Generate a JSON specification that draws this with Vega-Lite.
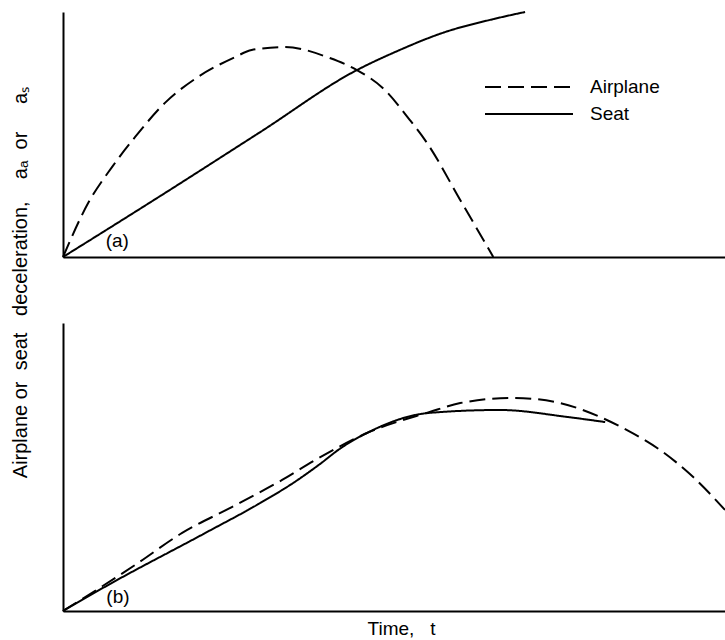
{
  "$schema": "https://vega.github.io/schema/vega-lite/v6.json",
  "padding": {"left": 9, "top": 8, "right": 0, "bottom": 0},
  "background": "white",
  "datasets": {
    "curves": [
      {"panel": "a", "series": "Airplane", "t": 0.0, "a": 0.0},
      {"panel": "a", "series": "Airplane", "t": 0.38, "a": 2.2},
      {"panel": "a", "series": "Airplane", "t": 0.74, "a": 3.67},
      {"panel": "a", "series": "Airplane", "t": 1.09, "a": 4.9},
      {"panel": "a", "series": "Airplane", "t": 1.54, "a": 6.29},
      {"panel": "a", "series": "Airplane", "t": 2.04, "a": 7.35},
      {"panel": "a", "series": "Airplane", "t": 2.6, "a": 8.16},
      {"panel": "a", "series": "Airplane", "t": 2.85, "a": 8.45},
      {"panel": "a", "series": "Airplane", "t": 3.35, "a": 8.57},
      {"panel": "a", "series": "Airplane", "t": 4.03, "a": 8.12},
      {"panel": "a", "series": "Airplane", "t": 4.44, "a": 7.63},
      {"panel": "a", "series": "Airplane", "t": 4.83, "a": 6.9},
      {"panel": "a", "series": "Airplane", "t": 5.24, "a": 5.59},
      {"panel": "a", "series": "Airplane", "t": 5.5, "a": 4.65},
      {"panel": "a", "series": "Airplane", "t": 6.0, "a": 2.33},
      {"panel": "a", "series": "Airplane", "t": 6.5, "a": 0.0},
      {"panel": "a", "series": "Seat", "t": 0.0, "a": 0.0},
      {"panel": "a", "series": "Seat", "t": 1.47, "a": 2.49},
      {"panel": "a", "series": "Seat", "t": 2.98, "a": 5.1},
      {"panel": "a", "series": "Seat", "t": 4.44, "a": 7.63},
      {"panel": "a", "series": "Seat", "t": 5.02, "a": 8.37},
      {"panel": "a", "series": "Seat", "t": 5.77, "a": 9.18},
      {"panel": "a", "series": "Seat", "t": 6.5, "a": 9.71},
      {"panel": "a", "series": "Seat", "t": 6.98, "a": 10.0},
      {"panel": "b", "series": "Airplane", "t": 0.0, "a": 0.0},
      {"panel": "b", "series": "Airplane", "t": 1.09, "a": 1.6},
      {"panel": "b", "series": "Airplane", "t": 1.8, "a": 2.71},
      {"panel": "b", "series": "Airplane", "t": 2.55, "a": 3.61},
      {"panel": "b", "series": "Airplane", "t": 3.31, "a": 4.55},
      {"panel": "b", "series": "Airplane", "t": 3.81, "a": 5.24},
      {"panel": "b", "series": "Airplane", "t": 4.59, "a": 6.18},
      {"panel": "b", "series": "Airplane", "t": 5.54, "a": 6.91},
      {"panel": "b", "series": "Airplane", "t": 6.0, "a": 7.22},
      {"panel": "b", "series": "Airplane", "t": 6.8, "a": 7.4},
      {"panel": "b", "series": "Airplane", "t": 7.51, "a": 7.22},
      {"panel": "b", "series": "Airplane", "t": 8.11, "a": 6.74},
      {"panel": "b", "series": "Airplane", "t": 8.52, "a": 6.28},
      {"panel": "b", "series": "Airplane", "t": 9.02, "a": 5.59},
      {"panel": "b", "series": "Airplane", "t": 9.52, "a": 4.65},
      {"panel": "b", "series": "Airplane", "t": 10.0, "a": 3.51},
      {"panel": "b", "series": "Seat", "t": 0.0, "a": 0.0},
      {"panel": "b", "series": "Seat", "t": 0.68, "a": 0.9},
      {"panel": "b", "series": "Seat", "t": 2.15, "a": 2.71},
      {"panel": "b", "series": "Seat", "t": 2.98, "a": 3.75},
      {"panel": "b", "series": "Seat", "t": 3.5, "a": 4.48},
      {"panel": "b", "series": "Seat", "t": 3.88, "a": 5.1},
      {"panel": "b", "series": "Seat", "t": 4.18, "a": 5.63},
      {"panel": "b", "series": "Seat", "t": 4.59, "a": 6.18},
      {"panel": "b", "series": "Seat", "t": 5.54, "a": 6.88},
      {"panel": "b", "series": "Seat", "t": 6.6, "a": 6.98},
      {"panel": "b", "series": "Seat", "t": 7.61, "a": 6.74},
      {"panel": "b", "series": "Seat", "t": 8.19, "a": 6.56}
    ],
    "tags": [
      {"panel": "a", "label": "(a)", "t": 0.82, "a": 0.41},
      {"panel": "b", "label": "(b)", "t": 0.83, "a": 0.28}
    ]
  },
  "vconcat": [
    {
      "width": 662,
      "height": 245,
      "layer": [
        {
          "data": {"name": "curves"},
          "transform": [{"filter": "datum.panel === 'a'"}],
          "mark": {"type": "line", "interpolate": "monotone", "strokeWidth": 2, "color": "black"},
          "encoding": {
            "x": {"field": "t", "type": "quantitative", "scale": {"domain": [0, 10], "nice": false}, "axis": {"title": null}},
            "y": {"field": "a", "type": "quantitative", "scale": {"domain": [0, 10], "nice": false}, "axis": {"title": null}},
            "strokeDash": {
              "field": "series", "type": "nominal",
              "scale": {"domain": ["Airplane", "Seat"], "range": [[16, 7], [1, 0]]},
              "legend": {"title": null}
            }
          }
        },
        {
          "data": {"name": "tags"},
          "transform": [{"filter": "datum.panel === 'a'"}],
          "mark": {"type": "text", "font": "Liberation Sans", "fontSize": 19, "align": "center", "baseline": "alphabetic", "color": "black"},
          "encoding": {
            "x": {"field": "t", "type": "quantitative"},
            "y": {"field": "a", "type": "quantitative"},
            "text": {"field": "label"}
          }
        }
      ]
    },
    {
      "width": 662,
      "height": 288,
      "layer": [
        {
          "data": {"name": "curves"},
          "transform": [{"filter": "datum.panel === 'b'"}],
          "mark": {"type": "line", "interpolate": "monotone", "strokeWidth": 2, "color": "black"},
          "encoding": {
            "x": {"field": "t", "type": "quantitative", "scale": {"domain": [0, 10], "nice": false},
                  "axis": {"title": "Time,\u00a0\u00a0\u00a0t", "titlePadding": 8, "titleX": 338}},
            "y": {"field": "a", "type": "quantitative", "scale": {"domain": [0, 10], "nice": false},
                  "axis": {"title": "Airplane\u00a0or\u00a0\u00a0seat\u00a0\u00a0\u00a0deceleration,\u00a0\u00a0\u00a0\u00a0aₐ\u00a0\u00a0or\u00a0\u00a0\u00a0\u00a0\u00a0aₛ", "titleFontSize": 20, "titlePadding": 33, "titleY": -41}},
            "strokeDash": {
              "field": "series", "type": "nominal",
              "scale": {"domain": ["Airplane", "Seat"], "range": [[16, 7], [1, 0]]},
              "legend": {"title": null}
            }
          }
        },
        {
          "data": {"name": "tags"},
          "transform": [{"filter": "datum.panel === 'b'"}],
          "mark": {"type": "text", "font": "Liberation Sans", "fontSize": 19, "align": "center", "baseline": "alphabetic", "color": "black"},
          "encoding": {
            "x": {"field": "t", "type": "quantitative"},
            "y": {"field": "a", "type": "quantitative"},
            "text": {"field": "label"}
          }
        }
      ]
    }
  ],
  "spacing": 66,
  "bounds": "flush",
  "config": {
    "view": {"stroke": null},
    "font": "Liberation Sans",
    "line": {"color": "black"},
    "axis": {
      "domainColor": "black",
      "domainWidth": 2,
      "ticks": false,
      "labels": false,
      "grid": false,
      "titleFont": "Liberation Sans",
      "titleFontSize": 19,
      "titleFontWeight": "normal",
      "titleColor": "black"
    },
    "legend": {
      "orient": "none",
      "legendX": 455,
      "legendY": 64,
      "padding": 0,
      "symbolType": "M-4.4,0H4.4",
      "symbolSize": 400,
      "symbolStrokeWidth": 2,
      "symbolStrokeColor": "black",
      "labelFont": "Liberation Sans",
      "labelFontSize": 19,
      "labelColor": "black",
      "labelOffset": 50,
      "rowPadding": 6
    }
  }
}
